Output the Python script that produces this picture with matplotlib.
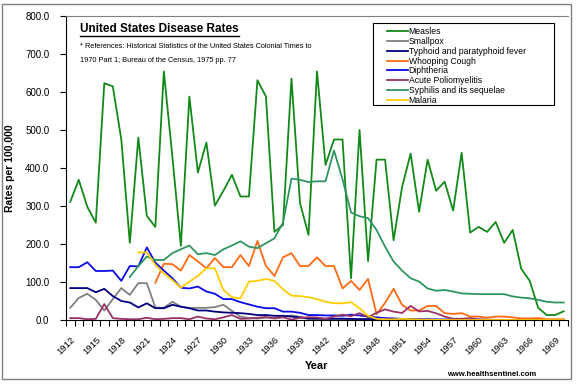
import matplotlib
matplotlib.use("Agg")
import matplotlib.pyplot as plt
from matplotlib.patches import Rectangle
from matplotlib.lines import Line2D
from matplotlib.ticker import FormatStrFormatter, FixedLocator

plt.rcParams['font.family'] = ['Liberation Sans', 'DejaVu Sans']

# rates per 100,000
years = list(range(1912, 1971))

measles = [311, 369, 298, 256, 623, 615, 475, 203, 480, 274,
           245, 654, 430, 195, 588, 388, 467, 301, 340, 382,
           325, 325, 631, 588, 232, 250, 635, 308, 224, 654,
           408, 475, 475, 110, 500, 155, 422, 422, 210, 350,
           438, 285, 422, 340, 364, 288, 440, 230, 245, 232,
           258, 203, 237, 135, 103, 32, 13, 13, 23]

smallpox = [32, 58, 69, 53, 25, 55, 84, 66, 97, 97,
            33, 32, 48, 35, 32, 32, 32, 34, 40, 24,
            9, 5, 4, 6, 6, 9, 12, 8, 2, 1,
            0.6, 0.6, 0.3, 0.3, 0.3, 0.1, 0.05, 0.03, 0, 0,
            0, 0, 0, 0, 0, 0, 0, 0, 0, 0,
            0, 0, 0, 0, 0, 0, 0, 0, 0]

typhoid = [84, 84, 84, 73, 82, 63, 50, 46, 33, 44,
           31, 31, 40, 35, 31, 25, 25, 22, 20, 19,
           18, 16, 13, 13, 11, 11, 9, 7, 4.5, 4,
           3.5, 3.5, 3.5, 3, 2.5, 2.5, 2.5, 2.5, 1.5, 1.5,
           1.5, 1.5, 1.5, 1, 1, 1, 0.8, 0.8, 0.5, 0.4,
           0.3, 0.3, 0.3, 0.2, 0.2, 0.2, 0.2, 0.2, 0.2]

whooping_years = list(range(1922, 1971))
whooping = [98, 148, 147, 130, 171, 154, 136, 163, 139, 139,
            171, 142, 208, 142, 116, 165, 176, 142, 142, 165,
            142, 142, 83, 103, 79, 108, 15, 45, 82, 40,
            25, 25, 37, 37, 18, 16, 18, 9, 9, 6,
            9, 9, 7, 4, 4, 5, 2, 2, 2]

diphtheria = [139, 139, 152, 129, 129, 130, 103, 142, 141, 191,
              151, 130, 110, 85, 83, 88, 75, 69, 55, 55,
              47, 41, 35, 31, 31, 22, 22, 19, 13, 13,
              12, 12, 11, 14, 12, 9, 7, 5, 4, 3,
              2, 1.5, 1.3, 1.2, 0.9, 0.7, 0.5, 0.5, 0.5, 0.3,
              0.2, 0.2, 0.2, 0.1, 0.1, 0.1, 0.1, 0.1, 0.2]

polio = [5, 5, 2, 3, 42, 5, 3, 2, 2, 6,
         2, 3, 5, 5, 2, 9, 4, 2, 7, 13,
         3, 4, 6, 8, 4, 7, 1.3, 5.6, 7.4, 6.8,
         3.1, 9.3, 14, 10, 18, 7.5, 19, 28, 22, 18.5,
         37, 22.5, 24, 17.6, 9, 3.2, 3.3, 4.8, 1.8, 0.7,
         0.5, 0.3, 0.1, 0.05, 0.06, 0.02, 0.03, 0.01, 0.02]

syphilis_years = list(range(1919, 1971))
syphilis = [113, 142, 167, 158, 158, 176, 186, 196, 173, 176,
            171, 186, 196, 207, 193, 189, 202, 215, 256, 372,
            369, 363, 365, 365, 446, 370, 283, 273, 268, 237,
            193, 154, 130, 110, 101, 83, 77, 79, 75, 70,
            69, 68, 68, 68, 68, 62, 59, 57, 53, 48,
            46, 46]

malaria_years = list(range(1920, 1971))
malaria = [178, 178, 145, 123, 105, 85, 101, 116, 136, 136,
           79, 60, 57, 101, 103, 108, 103, 81, 64, 63,
           60, 55, 48, 44, 44, 47, 31, 11, 3, 2,
           1.5, 3, 2, 1, 0.5, 0.3, 0.2, 0.1, 0.1, 0.1,
           0.1, 0.1, 0.1, 0.1, 0.1, 0.1, 0.1, 0.1, 0.1, 0.1,
           0.1]

W, H = 577, 385
fig = plt.figure(figsize=(W / 100, H / 100), dpi=100)
fig.patch.set_facecolor('white')

def fx(px):
    return px / W

def fy(py):
    return 1 - py / H

ax = fig.add_axes([fx(66), fy(320), fx(568) - fx(66), fy(16) - fy(320)])

lw = 1.3
ax.plot(years, measles, color='#13891a', lw=lw, label='Measles')
ax.plot(years, smallpox, color='#808080', lw=lw, label='Smallpox')
ax.plot(years, typhoid, color='#000080', lw=lw, label='Typhoid and paratyphoid fever')
ax.plot(whooping_years, whooping, color='#ff6a13', lw=lw, label='Whooping Cough')
ax.plot(years, diphtheria, color='#0a0aee', lw=lw, label='Diphtheria')
ax.plot(years, polio, color='#993366', lw=lw, label='Acute Poliomyelitis')
ax.plot(syphilis_years, syphilis, color='#2f9560', lw=lw, label='Syphilis and its sequelae')
ax.plot(malaria_years, malaria, color='#ffcc00', lw=lw, label='Malaria')

ax.set_xlim(1911.5, 1970.5)
ax.set_ylim(0, 800)
ax.set_yticks(range(0, 801, 100))
ax.yaxis.set_major_formatter(FormatStrFormatter('%.1f'))
ax.tick_params(axis='y', direction='out', length=4, width=0.8, labelsize=7, pad=8)

label_years = list(range(1912, 1970, 3))
ax.set_xticks(label_years)
ax.set_xticklabels([str(y) for y in label_years], rotation=45, ha='right',
                   rotation_mode='anchor', fontsize=6.8)
ax.xaxis.set_minor_locator(FixedLocator([y + 0.5 for y in range(1911, 1971)]))
ax.tick_params(axis='x', which='major', length=0, pad=11)
ax.tick_params(axis='x', which='minor', direction='out', length=4, width=0.8)

ax.spines['left'].set_color('black')
ax.spines['bottom'].set_color('black')
ax.spines['top'].set_color('#808080')
ax.spines['right'].set_visible(False)

# chart border
fig.add_artist(Rectangle((fx(1.5), fy(379)), fx(571) - fx(1.5), fy(3.5) - fy(379),
                         transform=fig.transFigure, fill=False, ec='#808080', lw=1))

# title and note
title = fig.text(fx(80), fy(29), 'United States Disease Rates', fontsize=8.5,
                 fontweight='bold', va='center', ha='left')
fig.text(fx(80), fy(47), '* References: Historical Statistics of the United States Colonial Times to',
         fontsize=5.3, va='center', ha='left')
fig.text(fx(80), fy(60), '1970 Part 1; Bureau of the Census, 1975 pp. 77',
         fontsize=5.3, va='center', ha='left')

fig.text(fx(10), fy(168), 'Rates per 100,000', rotation=90, fontsize=7.5,
         fontweight='bold', ha='center', va='center')
fig.text(fx(317), fy(366), 'Year', fontsize=8, fontweight='bold', ha='center', va='center')
fig.text(fx(492), fy(374), 'www.healthsentinel.com', fontsize=5.5, fontweight='bold',
         ha='center', va='center')

# legend box
fig.add_artist(Rectangle((fx(373), fy(105)), fx(554) - fx(373), fy(23) - fy(105),
                         transform=fig.transFigure, fc='white', ec='black', lw=0.8, zorder=4))
handles, labels = ax.get_legend_handles_labels()
fig.legend(handles, labels, loc='upper left', bbox_to_anchor=(fx(387), fy(27)),
           bbox_transform=fig.transFigure, frameon=False, fontsize=6.2,
           handlelength=2.4, handletextpad=0.1, labelspacing=0.1,
           borderpad=0, borderaxespad=0)

# underline the title
fig.canvas.draw()
bb = title.get_window_extent()
fig.add_artist(Line2D([bb.x0 / W, bb.x1 / W], [(bb.y0 - 1) / H, (bb.y0 - 1) / H],
                      transform=fig.transFigure, color='black', lw=1))

fig.savefig('out.png', dpi=100)
